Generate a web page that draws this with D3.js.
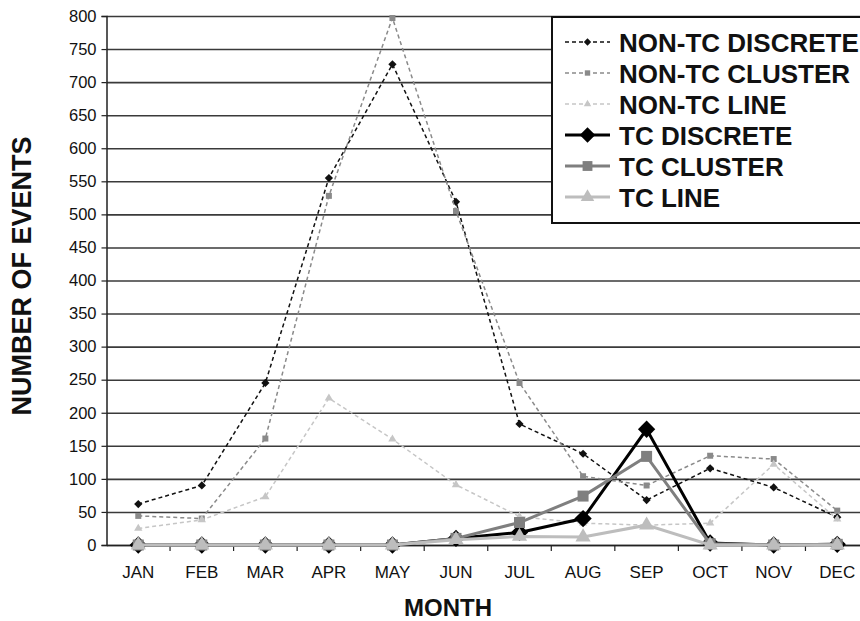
<!DOCTYPE html>
<html>
<head>
<meta charset="utf-8">
<script src="https://cdn.jsdelivr.net/npm/d3@7"></script>
<style>
  body { margin: 0; background: #fff; }
  svg { display: block; font-family: "Liberation Sans", Arial, sans-serif; }
</style>
</head>
<body>
<div id="chart"></div>
<script>
const months = ['JAN', 'FEB', 'MAR', 'APR', 'MAY', 'JUN', 'JUL', 'AUG', 'SEP', 'OCT', 'NOV', 'DEC'];
const yTicks = [0, 50, 100, 150, 200, 250, 300, 350, 400, 450, 500, 550, 600, 650, 700, 750, 800];

const nonTcDiscrete = [62, 90, 245, 555, 727, 519, 183, 138, 68, 116, 87, 42];
const nonTcCluster  = [44, 40, 161, 528, 797, 505, 245, 104, 90, 135, 130, 52];
const nonTcLine     = [25, 38, 73, 222, 160, 91, 43, 33, 30, 33, 122, 39];
const tcDiscrete    = [0, 0, 0, 0, 0, 10, 19, 40, 175, 3, 0, 1];
const tcCluster     = [0, 0, 0, 0, 0, 10, 34, 74, 134, 2, 0, 1];
const tcLine        = [0, 0, 0, 0, 0, 8, 13, 12, 30, 0, 0, 0];

const seriesNames = ['NON-TC DISCRETE', 'NON-TC CLUSTER', 'NON-TC LINE', 'TC DISCRETE', 'TC CLUSTER', 'TC LINE'];

// drawing style for each series, same order as seriesNames
const styles = [
  { values: nonTcDiscrete, color: '#111', width: 1.5, dash: '4,3', shape: 'diamond', size: 34 },
  { values: nonTcCluster,  color: '#8a8a8a', width: 1.5, dash: '4,3', shape: 'square', size: 36 },
  { values: nonTcLine,     color: '#c6c6c6', width: 1.5, dash: '4,3', shape: 'triangle', size: 30 },
  { values: tcDiscrete,    color: '#000', width: 3, dash: null, shape: 'diamond', size: 150 },
  { values: tcCluster,     color: '#7f7f7f', width: 3, dash: null, shape: 'square', size: 121 },
  { values: tcLine,        color: '#bdbdbd', width: 3, dash: null, shape: 'triangle', size: 100 }
];

const W = 860, H = 621;
const plotLeft = 106.5, plotRight = 869, plotTop = 16, plotBottom = 545;

const svg = d3.select('#chart').append('svg')
    .attr('width', W)
    .attr('height', H);

const x = d3.scaleBand().domain(months).range([plotLeft, plotRight]).padding(0);
const y = d3.scaleLinear().domain([0, 800]).range([plotBottom, plotTop]);
const cx = m => x(m) + x.bandwidth() / 2;

// gridlines
svg.append('g')
    .attr('transform', 'translate(' + plotLeft + ',0)')
    .call(d3.axisLeft(y).tickValues(yTicks).tickSize(-(plotRight - plotLeft)).tickFormat(''))
    .call(g => g.select('.domain').remove())
    .selectAll('line')
    .attr('stroke', '#3a3a3a')
    .attr('stroke-width', 1.6);

// y axis
const yAxis = svg.append('g')
    .attr('transform', 'translate(' + plotLeft + ',0)')
    .call(d3.axisLeft(y).tickValues(yTicks).tickSize(5).tickPadding(5));
yAxis.select('.domain').attr('stroke', '#222').attr('stroke-width', 1.5);
yAxis.selectAll('line').attr('stroke', '#222').attr('stroke-width', 1.2);
yAxis.selectAll('text')
    .attr('font-size', 16.5)
    .attr('fill', '#111')
    .attr('font-family', '"Liberation Sans", Arial, sans-serif');

// x axis: baseline + ticks at band edges + month labels
const xAxis = svg.append('g')
    .attr('transform', 'translate(0,' + plotBottom + ')')
    .call(d3.axisBottom(x).tickSize(0).tickPadding(21));
xAxis.select('.domain').attr('stroke', '#222').attr('stroke-width', 1.5);
xAxis.selectAll('text')
    .attr('font-size', 17)
    .attr('fill', '#111')
    .attr('font-family', '"Liberation Sans", Arial, sans-serif');

svg.append('g')
    .selectAll('line')
    .data(months.slice(1))
    .enter().append('line')
    .attr('x1', d => x(d)).attr('x2', d => x(d))
    .attr('y1', plotBottom).attr('y2', plotBottom + 6)
    .attr('stroke', '#222')
    .attr('stroke-width', 1.2);

// axis titles
svg.append('text')
    .attr('transform', 'translate(31,276) rotate(-90)')
    .attr('text-anchor', 'middle')
    .attr('font-size', 27)
    .attr('font-weight', 'bold')
    .attr('fill', '#111')
    .text('NUMBER OF EVENTS');

svg.append('text')
    .attr('x', 448)
    .attr('y', 616)
    .attr('text-anchor', 'middle')
    .attr('font-size', 24)
    .attr('font-weight', 'bold')
    .attr('fill', '#111')
    .text('MONTH');

const symbolPath = (shape, size) => {
    if (shape === 'triangle') return d3.symbol(d3.symbolTriangle, size)();
    return d3.symbol(d3.symbolSquare, size)();
};
const symbolRotate = shape => shape === 'diamond' ? ' rotate(45)' : '';

const line = d3.line()
    .x((d, i) => cx(months[i]))
    .y(d => y(d));

// series
styles.forEach((s, k) => {
    const g = svg.append('g').attr('class', 'series');
    g.append('path')
        .attr('d', line(s.values))
        .attr('fill', 'none')
        .attr('stroke', s.color)
        .attr('stroke-width', s.width)
        .attr('stroke-dasharray', s.dash)
        .attr('stroke-linejoin', 'miter');
    g.selectAll('path.pt')
        .data(s.values)
        .enter().append('path')
        .attr('class', 'pt')
        .attr('d', symbolPath(s.shape, s.size))
        .attr('transform', (d, i) => 'translate(' + cx(months[i]) + ',' + y(d) + ')' + symbolRotate(s.shape))
        .attr('fill', s.color);
});

// legend
const legend = svg.append('g');
legend.append('rect')
    .attr('x', 552)
    .attr('y', 17)
    .attr('width', 330)
    .attr('height', 206)
    .attr('fill', '#fff')
    .attr('stroke', '#111')
    .attr('stroke-width', 2);

const item = legend.selectAll('g.item')
    .data(seriesNames)
    .enter().append('g')
    .attr('class', 'item')
    .attr('transform', (d, i) => 'translate(0,' + (42 + i * 31) + ')');

item.append('line')
    .attr('x1', 565).attr('x2', 610)
    .attr('y1', 0).attr('y2', 0)
    .attr('stroke', (d, i) => styles[i].color)
    .attr('stroke-width', (d, i) => styles[i].width)
    .attr('stroke-dasharray', (d, i) => styles[i].dash);

item.append('path')
    .attr('d', (d, i) => symbolPath(styles[i].shape, styles[i].size * 0.8))
    .attr('transform', (d, i) => 'translate(587.5,0)' + symbolRotate(styles[i].shape))
    .attr('fill', (d, i) => styles[i].color);

item.append('text')
    .attr('x', 619)
    .attr('y', 9.5)
    .attr('font-size', 26)
    .attr('font-weight', 'bold')
    .attr('fill', '#111')
    .text(d => d);
</script>
</body>
</html>
